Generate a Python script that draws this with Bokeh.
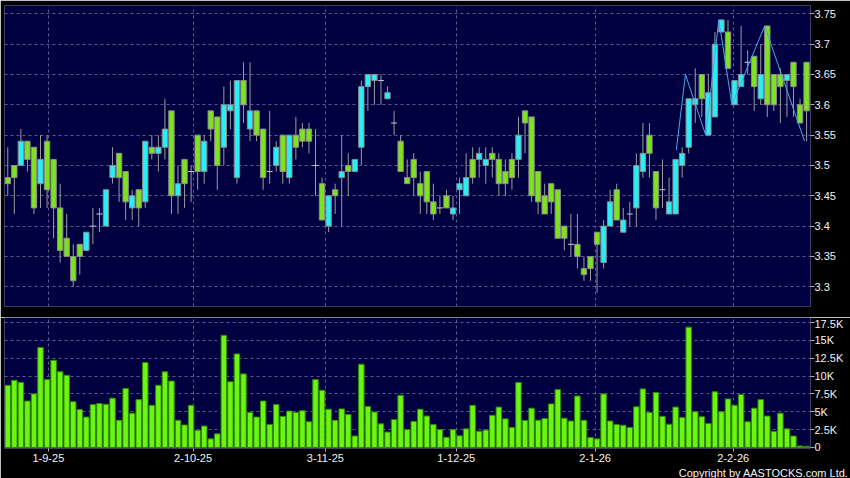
from bokeh.plotting import figure
from bokeh.models import (ColumnDataSource, FixedTicker, CustomJSTickFormatter,
                          Title, Range1d)
from bokeh.layouts import column
from bokeh.embed import file_html
from bokeh.resources import INLINE

# ---------------- data ----------------
opens = [3.48, 3.50, 3.50, 3.54, 3.53, 3.47, 3.54, 3.51, 3.43, 3.38,
         3.35, 3.37, 3.36, 3.40, 3.42, 3.40, 3.48, 3.52, 3.49, 3.43,
         3.46, 3.44, 3.53, 3.52, 3.53, 3.59, 3.45, 3.51, 3.49, 3.55,
         3.49, 3.59, 3.58, 3.53, 3.59, 3.48, 3.64, 3.56, 3.59, 3.56,
         3.49, 3.50, 3.55, 3.48, 3.55, 3.56, 3.56, 3.50, 3.47, 3.40,
         3.46, 3.48, 3.50, 3.49, 3.53, 3.63, 3.64, 3.64, 3.61, 3.57,
         3.54, 3.48, 3.51, 3.47, 3.49, 3.44, 3.43, 3.45, 3.42, 3.46,
         3.45, 3.51, 3.51, 3.50, 3.52, 3.51, 3.49, 3.51, 3.51, 3.59,
         3.58, 3.49, 3.45, 3.47, 3.46, 3.40, 3.37, 3.37, 3.33, 3.35,
         3.39, 3.34, 3.40, 3.46, 3.39, 3.42, 3.43, 3.49, 3.55, 3.49,
         3.46, 3.42, 3.42, 3.50, 3.53, 3.60, 3.65, 3.55, 3.58, 3.72,
         3.72, 3.60, 3.63, 3.67, 3.68, 3.61, 3.73, 3.65, 3.65, 3.64,
         3.67, 3.60, 3.67]
highs = [3.53, 3.50, 3.56, 3.54, 3.53, 3.55, 3.55, 3.51, 3.47, 3.42,
         3.37, 3.37, 3.39, 3.43, 3.43, 3.46, 3.53, 3.52, 3.49, 3.46,
         3.46, 3.54, 3.55, 3.55, 3.61, 3.59, 3.50, 3.51, 3.50, 3.55,
         3.55, 3.59, 3.58, 3.63, 3.64, 3.64, 3.67, 3.67, 3.59, 3.56,
         3.59, 3.54, 3.55, 3.55, 3.58, 3.57, 3.57, 3.56, 3.48, 3.45,
         3.47, 3.55, 3.52, 3.51, 3.64, 3.65, 3.65, 3.65, 3.63, 3.59,
         3.55, 3.51, 3.52, 3.49, 3.49, 3.47, 3.45, 3.46, 3.45, 3.48,
         3.52, 3.53, 3.53, 3.53, 3.53, 3.52, 3.51, 3.52, 3.58, 3.59,
         3.58, 3.49, 3.47, 3.47, 3.46, 3.40, 3.42, 3.42, 3.35, 3.35,
         3.39, 3.41, 3.46, 3.47, 3.43, 3.44, 3.52, 3.57, 3.57, 3.49,
         3.51, 3.48, 3.51, 3.53, 3.61, 3.66, 3.65, 3.65, 3.72, 3.74,
         3.74, 3.64, 3.73, 3.69, 3.68, 3.70, 3.73, 3.65, 3.66, 3.65,
         3.67, 3.61, 3.67]
lows = [3.45, 3.42, 3.50, 3.49, 3.42, 3.43, 3.43, 3.38, 3.34, 3.35,
        3.30, 3.32, 3.36, 3.37, 3.39, 3.40, 3.47, 3.44, 3.41, 3.41,
        3.40, 3.43, 3.51, 3.49, 3.51, 3.42, 3.42, 3.43, 3.44, 3.46,
        3.47, 3.54, 3.46, 3.50, 3.56, 3.47, 3.57, 3.54, 3.54, 3.46,
        3.47, 3.49, 3.47, 3.47, 3.51, 3.53, 3.52, 3.45, 3.41, 3.39,
        3.42, 3.40, 3.45, 3.49, 3.50, 3.59, 3.60, 3.60, 3.61, 3.55,
        3.49, 3.47, 3.45, 3.42, 3.42, 3.41, 3.42, 3.43, 3.41, 3.42,
        3.45, 3.47, 3.48, 3.47, 3.48, 3.45, 3.45, 3.46, 3.48, 3.52,
        3.44, 3.42, 3.42, 3.42, 3.38, 3.36, 3.35, 3.33, 3.31, 3.31,
        3.29, 3.33, 3.40, 3.41, 3.39, 3.40, 3.40, 3.48, 3.48, 3.41,
        3.43, 3.42, 3.42, 3.48, 3.52, 3.57, 3.58, 3.55, 3.58, 3.72,
        3.66, 3.60, 3.63, 3.65, 3.59, 3.60, 3.58, 3.59, 3.57, 3.58,
        3.58, 3.57, 3.54]
closes = [3.47, 3.48, 3.54, 3.51, 3.43, 3.51, 3.46, 3.43, 3.36, 3.35,
          3.31, 3.35, 3.39, 3.40, 3.42, 3.46, 3.50, 3.48, 3.44, 3.45,
          3.43, 3.54, 3.52, 3.53, 3.56, 3.45, 3.47, 3.47, 3.49, 3.49,
          3.54, 3.56, 3.50, 3.60, 3.60, 3.64, 3.60, 3.59, 3.55, 3.48,
          3.49, 3.53, 3.49, 3.55, 3.53, 3.54, 3.54, 3.50, 3.41, 3.45,
          3.45, 3.49, 3.49, 3.51, 3.63, 3.65, 3.65, 3.64, 3.62, 3.57,
          3.49, 3.47, 3.48, 3.45, 3.44, 3.42, 3.43, 3.43, 3.43, 3.47,
          3.48, 3.48, 3.52, 3.51, 3.51, 3.47, 3.47, 3.48, 3.55, 3.57,
          3.45, 3.44, 3.42, 3.44, 3.38, 3.38, 3.37, 3.35, 3.32, 3.33,
          3.37, 3.40, 3.44, 3.41, 3.41, 3.42, 3.50, 3.52, 3.52, 3.43,
          3.46, 3.44, 3.51, 3.52, 3.61, 3.61, 3.61, 3.62, 3.70, 3.74,
          3.66, 3.64, 3.65, 3.67, 3.63, 3.65, 3.60, 3.60, 3.63, 3.65,
          3.63, 3.57, 3.59]
volume_k = [8.7, 9.4, 9.1, 6.5, 7.5, 14.0, 9.5, 12.2, 10.6, 10.1,
            6.4, 5.3, 4.25, 6.0, 6.15, 6.05, 6.9, 3.8, 8.25, 4.8,
            6.7, 11.9, 5.9, 8.7, 10.6, 9.3, 3.8, 3.15, 5.9, 2.4,
            3.0, 1.2, 1.9, 15.7, 9.2, 13.1, 10.3, 4.9, 4.25, 6.5,
            3.2, 6.0, 4.35, 5.1, 4.9, 5.15, 3.6, 9.5, 8.0, 5.35,
            3.8, 5.4, 4.6, 1.6, 11.65, 5.75, 4.95, 3.3, 2.15, 3.9,
            7.3, 2.5, 3.65, 5.35, 4.4, 3.2, 2.5, 1.43, 2.5, 1.62,
            2.6, 5.9, 2.27, 2.43, 4.5, 5.65, 4.0, 2.8, 9.1, 3.77,
            5.5, 3.82, 4.05, 6.1, 8.1, 4.1, 3.7, 7.2, 3.8, 1.4,
            1.2, 7.5, 3.7, 3.2, 3.1, 2.8, 5.7, 8.2, 4.9, 7.7,
            4.35, 3.25, 5.65, 4.2, 16.85, 5.0, 4.3, 3.35, 7.8, 5.0,
            6.8, 5.9, 7.4, 3.6, 5.5, 6.7, 4.4, 2.25, 4.8, 2.6,
            1.6, 0.2, 0.15]

# overlay zig-zag line (session index, price)
zigzag_idx = [102.1, 103.5, 106.6, 108.6, 110.6, 115.6, 121.7]
zigzag_val = [3.525, 3.65, 3.55, 3.74, 3.60, 3.73, 3.54]

# date axis
date_tick_pos = [6.2, 28.3, 48.5, 68.5, 89.7, 110.8]
date_tick_labels = ["1-9-25", "2-10-25", "3-11-25", "1-12-25", "2-1-26", "2-2-26"]

price_ticks = [3.3, 3.35, 3.4, 3.45, 3.5, 3.55, 3.6, 3.65, 3.7, 3.75]
volume_ticks = [0, 2.5, 5, 7.5, 10, 12.5, 15, 17.5]

# ---------------- styling ----------------
BG = "#000040"
UP = "#27eef7"
DOWN = "#7fe21e"
EDGE = "#8c8c8c"
WICK = "#9c9c9c"
GRID = "#5a5a90"
TXT = "#f2f2f2"
FONT = "Liberation Sans"

n = len(opens)
idx = list(range(n))
body_top = [max(o, c) for o, c in zip(opens, closes)]
body_bot = [min(o, c) for o, c in zip(opens, closes)]
colors = [UP if c > o else DOWN for o, c in zip(opens, closes)]

reg = [i for i in idx if opens[i] != closes[i]]
doj = [i for i in idx if opens[i] == closes[i]]

src_all = ColumnDataSource(dict(x=idx, high=highs, low=lows))
src_body = ColumnDataSource(dict(x=reg, top=[body_top[i] for i in reg],
                                 bottom=[body_bot[i] for i in reg],
                                 color=[colors[i] for i in reg]))
src_doji = ColumnDataSource(dict(x=doj, y=[opens[i] for i in doj]))
src_vol = ColumnDataSource(dict(x=idx, v=volume_k))

xr = Range1d(-0.5, 122.6)

common = dict(output_backend="svg", toolbar_location=None, width=850,
              min_border_left=4, min_border_right=40,
              background_fill_color=BG, border_fill_color="black",
              outline_line_color=None, x_range=xr, y_axis_location="right")

# ---------------- price panel ----------------
p1 = figure(height=317, y_range=Range1d(3.2675, 3.7637),
            min_border_top=5, min_border_bottom=11, **common)
p1.xaxis.visible = False

p1.segment(x0="x", y0="low", x1="x", y1="high", source=src_all,
           line_color=WICK, line_width=1)
p1.vbar(x="x", top="top", bottom="bottom", width=0.82, source=src_body,
        fill_color="color", line_color=EDGE, line_width=1)
p1.dash(x="x", y="y", size=6, angle=0, source=src_doji,
        line_color="#c8c8c8", line_width=1)
p1.line(zigzag_idx, zigzag_val, line_color="#4aa6e8", line_width=1)

p1.yaxis.ticker = FixedTicker(ticks=price_ticks)
p1.yaxis.formatter = CustomJSTickFormatter(
    code="return tick.toFixed(2).replace(/0$/, '');")
p1.xaxis.ticker = FixedTicker(ticks=date_tick_pos)

# ---------------- volume panel ----------------
p2 = figure(height=161, y_range=Range1d(-0.15, 18.2),
            min_border_top=0, **common)

p2.vbar(x="x", top="v", bottom=0, width=0.84, source=src_vol,
        fill_color="#6cf512", line_color="#2f8a00", line_width=1)

p2.yaxis.ticker = FixedTicker(ticks=volume_ticks)
p2.yaxis.formatter = CustomJSTickFormatter(
    code="return tick == 0 ? '0' : tick + 'K';")
p2.xaxis.ticker = FixedTicker(ticks=date_tick_pos)
p2.xaxis.formatter = CustomJSTickFormatter(
    args=dict(pos=date_tick_pos, labels=date_tick_labels),
    code="""for (let i = 0; i < pos.length; i++) {
                if (Math.abs(tick - pos[i]) < 1e-6) return labels[i];
            }
            return '';""")

for p in (p1, p2):
    for g in (p.xgrid, p.ygrid):
        g.grid_line_color = GRID
        g.grid_line_dash = "3 3"
    for ax in p.axis:
        ax.axis_line_color = None
        ax.major_tick_line_color = "#b0b0b0"
        ax.major_tick_out = 4
        ax.major_tick_in = 0
        ax.minor_tick_line_color = None
        ax.major_label_text_color = TXT
        ax.major_label_text_font = FONT
        ax.major_label_text_font_size = "11px"
        ax.major_label_standoff = 0

p1.xgrid.ticker = FixedTicker(ticks=date_tick_pos)
p2.xaxis.major_tick_out = 3
p2.xaxis.major_label_standoff = 2

p2.add_layout(Title(text="Copyright by AASTOCKS.com Ltd.", align="right",
                    text_font=FONT, text_font_size="11px",
                    text_font_style="normal", text_color=TXT,
                    standoff=0, offset=-38), "below")

layout = column(p1, p2, spacing=0)

open("out.html", "w").write(file_html(layout, INLINE))
